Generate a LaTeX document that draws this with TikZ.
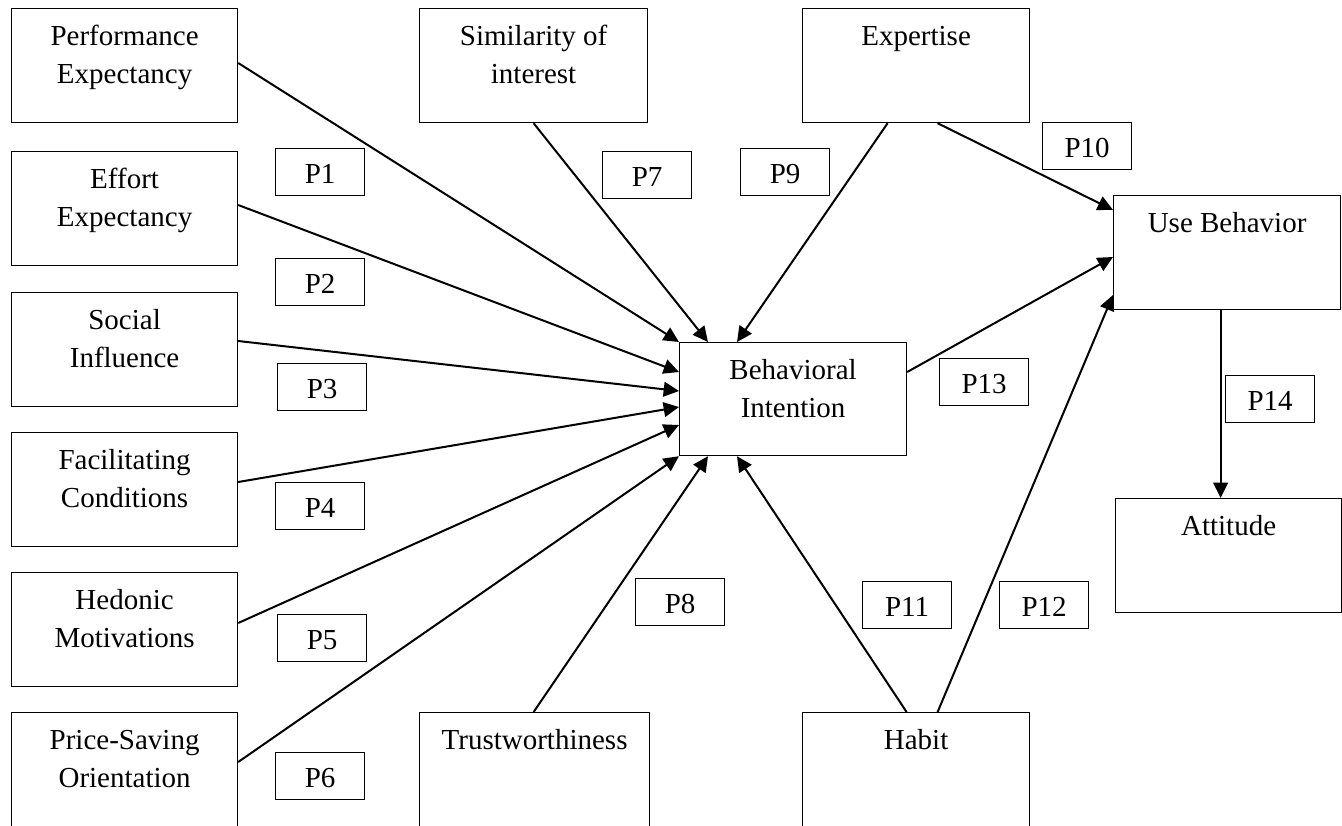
\documentclass[tikz,border=0pt]{standalone}
\usepackage{fontspec}
\setmainfont{Liberation Serif}
\usetikzlibrary{arrows.meta,calc}
\newcommand\diagfont{\fontsize{21.75pt}{28.5pt}\selectfont}
\begin{document}
\begin{tikzpicture}[x=0.75pt,y=-0.75pt,
  construct/.style 2 args={draw, line width=0.9pt, inner sep=0pt, anchor=north west,
    align=flush center, text width=#1, text height=27.75pt, text depth=#2, font=\diagfont},
  plabel/.style={draw, line width=0.7pt, inner sep=0pt, anchor=north west,
    align=flush center, text width=67pt, text height=26.25pt, text depth=9pt, font=\diagfont},
  link/.style={line width=1.5pt, -{Triangle[length=11.5pt,width=11pt]}}]
\useasboundingbox (0,0) rectangle (1342,825);

% constructs on the left
\node[construct={169.5pt}{57.75pt}] (pe) at (11,8)   {Performance\\Expectancy};
\node[construct={169.5pt}{57.75pt}] (ee) at (11,151) {Effort\\Expectancy};
\node[construct={169.5pt}{57.75pt}] (si) at (11,292) {Social\\Influence};
\node[construct={169.5pt}{57.75pt}] (fc) at (11,432) {Facilitating\\Conditions};
\node[construct={169.5pt}{57.75pt}] (hm) at (11,572) {Hedonic\\Motivations};
\node[construct={169.5pt}{61.5pt}]  (ps) at (11,712) {Price-Saving\\Orientation};

% constructs above and below
\node[construct={171pt}{57.75pt}]    (sim) at (419,8)   {Similarity of\\interest};
\node[construct={170.25pt}{57.75pt}] (exp) at (802,8)   {Expertise};
\node[construct={172.5pt}{61.5pt}]   (tr)  at (419,712) {Trustworthiness};
\node[construct={170.25pt}{61.5pt}]  (hab) at (802,712) {Habit};

% central and outcome constructs
\node[construct={170.25pt}{57pt}]    (bi)  at (679,342)  {Behavioral\\Intention};
\node[construct={170.25pt}{57.75pt}] (ub)  at (1113,195) {Use Behavior};
\node[construct={169.5pt}{57.75pt}]  (att) at (1115,498) {Attitude};

% proposition labels
\node[plabel] (p1)  at (275,148)  {P1};
\node[plabel] (p2)  at (275,258)  {P2};
\node[plabel] (p3)  at (277,363)  {P3};
\node[plabel] (p4)  at (275,482)  {P4};
\node[plabel] (p5)  at (277,614)  {P5};
\node[plabel] (p6)  at (275,752)  {P6};
\node[plabel] (p7)  at (602,151)  {P7};
\node[plabel] (p8)  at (635,578)  {P8};
\node[plabel] (p9)  at (740,148)  {P9};
\node[plabel] (p10) at (1042,122) {P10};
\node[plabel] (p11) at (862,581)  {P11};
\node[plabel] (p12) at (999,581)  {P12};
\node[plabel] (p13) at (939,358)  {P13};
\node[plabel] (p14) at (1225,375) {P14};

% paths into Behavioral Intention
\draw[link] ($(pe.north east)+(0,55)$) -- (bi.north west);
\draw[link] ($(ee.north east)+(0,54)$) -- ($(bi.north west)+(0,30)$);
\draw[link] ($(si.north east)+(0,49)$) -- ($(bi.north west)+(0,49)$);
\draw[link] ($(fc.north east)+(0,50)$) -- ($(bi.north west)+(0,65)$);
\draw[link] ($(hm.north east)+(0,51)$) -- ($(bi.north west)+(0,83)$);
\draw[link] ($(ps.north east)+(0,50)$) -- (bi.south west);
\draw[link] (sim.south) -- ($(bi.north west)+(29,0)$);
\draw[link] ($(exp.south)+(-28.5,0)$) -- ($(bi.north west)+(58,0)$);
\draw[link] ($(tr.north)+(-1,0)$) -- ($(bi.south west)+(29,0)$);
\draw[link] ($(hab.north)+(-9.5,0)$) -- ($(bi.south west)+(58,0)$);

% paths into Use Behavior and Attitude
\draw[link] ($(exp.south)+(21.5,0)$) -- ($(ub.north west)+(0,15)$);
\draw[link] ($(bi.north east)+(0,30)$) -- ($(ub.north west)+(0,62)$);
\draw[link] ($(hab.north)+(21.5,0)$) -- ($(ub.north west)+(0,100)$);
\draw[link] ($(ub.south)+(-6.5,0)$) -- ($(att.north)+(-8,0)$);
\end{tikzpicture}
\end{document}
